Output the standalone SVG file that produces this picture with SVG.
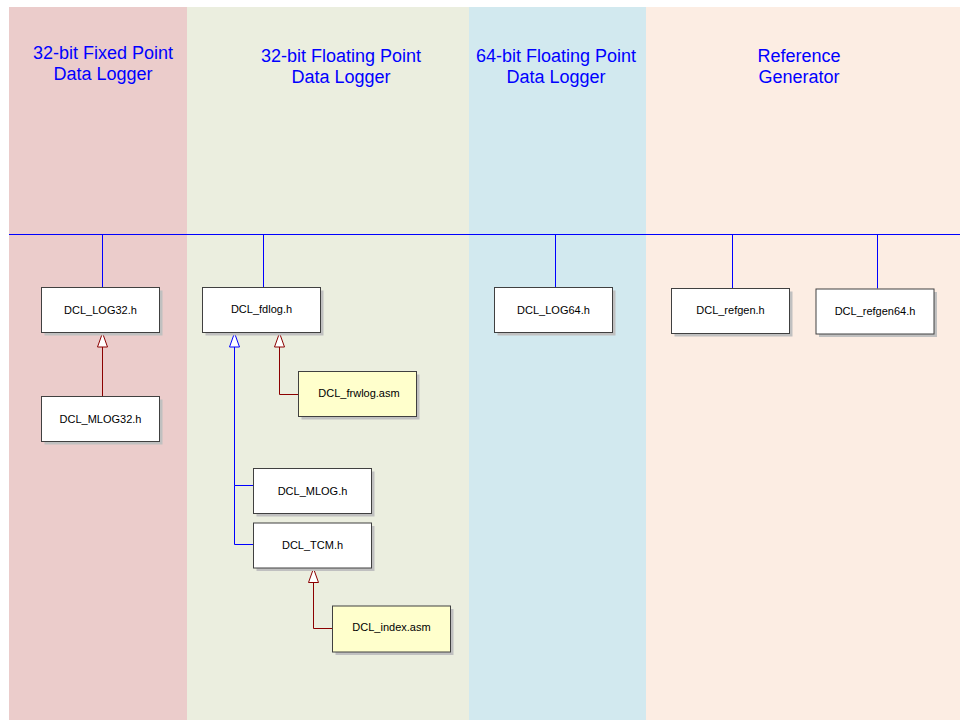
<svg xmlns="http://www.w3.org/2000/svg" width="960" height="720" viewBox="0 0 960 720">
<defs>
<style>
.hdr{font-family:"Liberation Sans",Arial,sans-serif;font-size:18px;fill:#0000ff;text-anchor:middle}
.lbl{font-family:"Liberation Sans",Arial,sans-serif;font-size:11px;fill:#000;text-anchor:middle}
.box{fill:#fff;stroke:#404040;stroke-width:1}
.asm{fill:#ffffcc;stroke:#404040;stroke-width:1}
.sh{fill:#c0c0c0}
.bl{fill:none;stroke:#0000ff;stroke-width:1}
.rd{fill:none;stroke:#8b0000;stroke-width:1}
</style>
<marker id="triB" viewBox="0 0 16 12" refX="15" refY="6" markerWidth="16" markerHeight="12" markerUnits="userSpaceOnUse" orient="auto">
<path d="M15,6 L1,1 L1,11 Z" fill="#fff" stroke="#0000ff" stroke-width="1"/>
</marker>
<marker id="triR" viewBox="0 0 16 12" refX="15" refY="6" markerWidth="16" markerHeight="12" markerUnits="userSpaceOnUse" orient="auto">
<path d="M15,6 L1,1 L1,11 Z" fill="#fff" stroke="#8b0000" stroke-width="1"/>
</marker>
</defs>
<rect x="0" y="0" width="960" height="720" fill="#fff"/>
<g id="lanes">
<rect x="9" y="7" width="178" height="713" fill="#ebcccb"/>
<rect x="187" y="7" width="282" height="713" fill="#ebeedf"/>
<rect x="469" y="7" width="177" height="713" fill="#d2e9ef"/>
<rect x="646" y="7" width="314" height="713" fill="#fcede3"/>
<text class="hdr" x="103" y="59">32-bit Fixed Point</text>
<text class="hdr" x="103" y="80">Data Logger</text>
<text class="hdr" x="341" y="62">32-bit Floating Point</text>
<text class="hdr" x="341" y="83">Data Logger</text>
<text class="hdr" x="556" y="62">64-bit Floating Point</text>
<text class="hdr" x="556" y="83">Data Logger</text>
<text class="hdr" x="799" y="62">Reference</text>
<text class="hdr" x="799" y="83">Generator</text>
</g>
<g id="connectors">
<path class="bl" d="M9,234.5 H960"/>
<path class="bl" d="M102.5,234.5 V287.5"/>
<path class="bl" d="M263.5,234.5 V287.5"/>
<path class="bl" d="M555.5,234.5 V287.5"/>
<path class="bl" d="M732.5,234.5 V288.5"/>
<path class="bl" d="M877.5,234.5 V288.5"/>
<path class="rd" d="M102.5,396 V333" marker-end="url(#triR)"/>
<path class="rd" d="M298,394.5 H279.5 V333" marker-end="url(#triR)"/>
<path class="bl" d="M253,485.5 H234.5 V333" marker-end="url(#triB)"/>
<path class="bl" d="M253,544.5 H234.5 V485.5"/>
<path class="rd" d="M332,628.5 H313.5 V568.5" marker-end="url(#triR)"/>
</g>
<g id="n_log32">
<rect class="sh" x="44.5" y="290.5" width="118" height="45"/>
<rect class="box" x="41.5" y="287.5" width="118" height="45"/>
<text class="lbl" x="100.5" y="314">DCL_LOG32.h</text>
</g>
<g id="n_mlog32">
<rect class="sh" x="44.5" y="399.5" width="118" height="45"/>
<rect class="box" x="41.5" y="396.5" width="118" height="45"/>
<text class="lbl" x="100.5" y="423">DCL_MLOG32.h</text>
</g>
<g id="n_fdlog">
<rect class="sh" x="205.5" y="290.5" width="118" height="45"/>
<rect class="box" x="202.5" y="287.5" width="118" height="45"/>
<text class="lbl" x="261.5" y="313">DCL_fdlog.h</text>
</g>
<g id="n_frwlog">
<rect class="sh" x="301.5" y="374.5" width="118" height="45"/>
<rect class="asm" x="298.5" y="371.5" width="118" height="45"/>
<text class="lbl" x="359" y="397">DCL_frwlog.asm</text>
</g>
<g id="n_mlog">
<rect class="sh" x="256.5" y="471.5" width="118" height="45"/>
<rect class="box" x="253.5" y="468.5" width="118" height="45"/>
<text class="lbl" x="312.5" y="495">DCL_MLOG.h</text>
</g>
<g id="n_tcm">
<rect class="sh" x="256.5" y="526" width="118" height="45"/>
<rect class="box" x="253.5" y="523" width="118" height="45"/>
<text class="lbl" x="312.5" y="549">DCL_TCM.h</text>
</g>
<g id="n_index">
<rect class="sh" x="335.5" y="609" width="118" height="46"/>
<rect class="asm" x="332.5" y="606" width="118" height="46"/>
<text class="lbl" x="391.5" y="631">DCL_index.asm</text>
</g>
<g id="n_log64">
<rect class="sh" x="497.5" y="290.5" width="118" height="45"/>
<rect class="box" x="494.5" y="287.5" width="118" height="45"/>
<text class="lbl" x="553.5" y="314">DCL_LOG64.h</text>
</g>
<g id="n_refgen">
<rect class="sh" x="674.5" y="291.5" width="118" height="45"/>
<rect class="box" x="671.5" y="288.5" width="118" height="45"/>
<text class="lbl" x="730.5" y="314">DCL_refgen.h</text>
</g>
<g id="n_refgen64">
<rect class="sh" x="819" y="292" width="118" height="45"/>
<rect class="box" x="816" y="289" width="118" height="45"/>
<text class="lbl" x="875" y="315">DCL_refgen64.h</text>
</g>
</svg>
